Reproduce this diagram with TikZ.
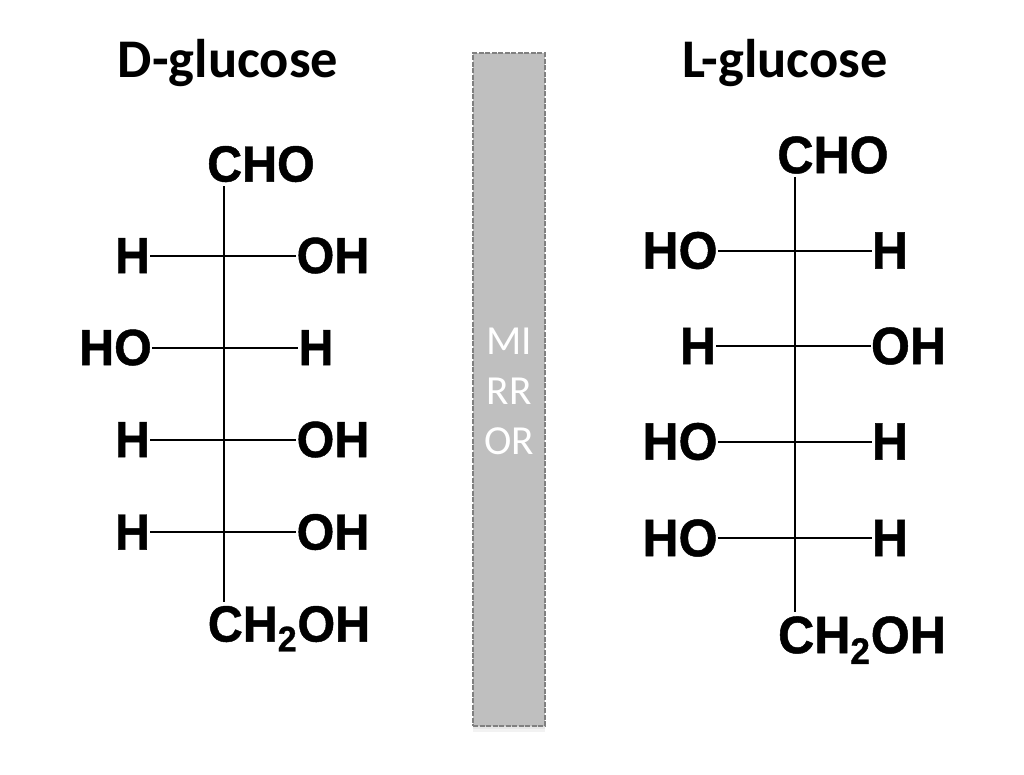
\documentclass[tikz,border=0pt]{standalone}
\usepackage{fontspec}
\setmainfont{Liberation Sans}[BoldFeatures = {FakeBold = 0.9, FakeStretch = 0.95}]
\newfontfamily\titlefont{Carlito}
\usetikzlibrary{shadows}
\tikzset{
  groupD/.style = {font = \fontsize{29}{30}\selectfont\bfseries, inner xsep = 0pt, inner ysep = 1pt, text height = 20pt, text depth = 0pt},
  groupL/.style = {font = \fontsize{30}{30}\selectfont\bfseries, inner xsep = 0pt, inner ysep = 1pt, text height = 20.7pt, text depth = 0pt},
  glucosetitle/.style = {font = \fontsize{31}{34}\selectfont\titlefont\bfseries},
  bond/.style = {line width = 0.04cm, black},
  chain/.style = {line width = 0.045cm, black},
  softshadow/.style = {drop shadow = {shadow xshift = 0cm, shadow yshift = #1, opacity = 0.1}},
  mirrorbar/.style = {fill = gray!50!white, draw = gray, dash pattern = on 0.1cm off 0.03cm, line width = 0.03cm, align = center,
    minimum width = 1.44cm, minimum height = 13.46cm, text = white, inner sep = 0pt,
    softshadow = -0.03cm, softshadow = -0.07cm, softshadow = -0.12cm,
    font = \fontsize{23.5}{28.5}\selectfont\titlefont}
}
\begin{document}
\begin{tikzpicture}[x = 0.02cm, y = -0.02cm]
\useasboundingbox (0,0) rectangle (1024,774);
\node[glucosetitle] (titleD) at (228,63) {D-glucose};
\node[glucosetitle] (titleL) at (785,63) {L-glucose};
\node[mirrorbar] (mirror) at (509,389.5) {\rule{0pt}{17.5pt}MI\\RR\\OR};

% D-glucose
\node[groupD] (choD) at (261,164) {CHO};
\node[groupD] (hD1) at (132.5,255.5) {H};
\node[groupD] (ohD1) at (333,255.5) {OH};
\node[groupD] (hoD2) at (115.5,347.5) {HO};
\node[groupD] (hD2) at (316,347.5) {H};
\node[groupD] (hD3) at (132.5,439.5) {H};
\node[groupD] (ohD3) at (333,439.5) {OH};
\node[groupD] (hD4) at (132.5,532) {H};
\node[groupD] (ohD4) at (333,532) {OH};
\node[groupD] (chD) at (289,624) {CH\textsubscript{2}OH};
\draw[chain] ([shift = {(-36.7,2.5)}]choD.south) -- ([shift = {(-64.7,-2)}]chD.north);
\draw[bond] (hD1) -- (ohD1);
\draw[bond] (hoD2) -- (hD2);
\draw[bond] (hD3) -- (ohD3);
\draw[bond] (hD4) -- (ohD4);

% L-glucose
\node[groupL] (choL) at (833,155) {CHO};
\node[groupL] (hoL1) at (680,250.5) {HO};
\node[groupL] (hL1) at (890,250.5) {H};
\node[groupL] (hL2) at (698,346) {H};
\node[groupL] (ohL2) at (908.5,346) {OH};
\node[groupL] (hoL3) at (680,441.5) {HO};
\node[groupL] (hL3) at (890,441.5) {H};
\node[groupL] (hoL4) at (680,538) {HO};
\node[groupL] (hL4) at (890,538) {H};
\node[groupL] (chL) at (862,635) {CH\textsubscript{2}OH};
\draw[chain] ([shift = {(-38.3,1.5)}]choL.south) -- ([shift = {(-67.3,-3)}]chL.north);
\draw[bond] (hoL1) -- (hL1);
\draw[bond] (hL2) -- (ohL2);
\draw[bond] (hoL3) -- (hL3);
\draw[bond] (hoL4) -- (hL4);
\end{tikzpicture}
\end{document}
